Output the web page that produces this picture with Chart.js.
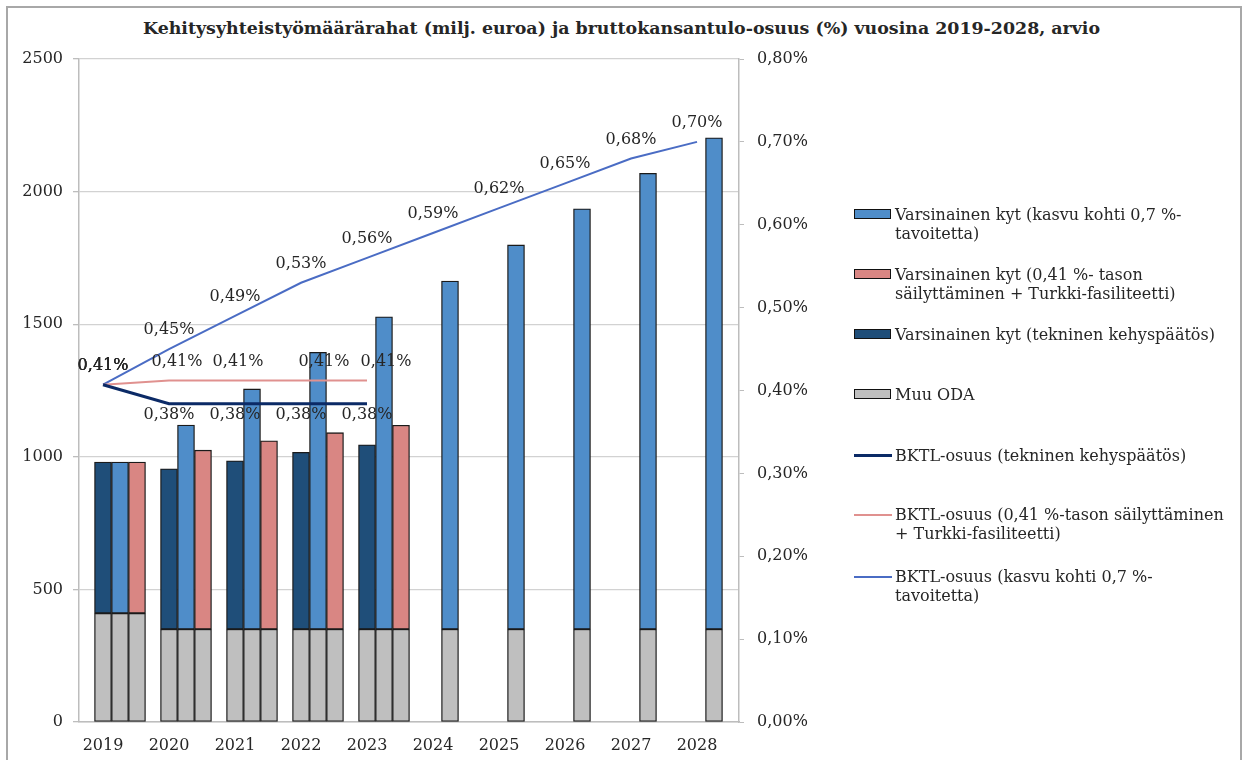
<!DOCTYPE html>
<html lang="fi">
<head>
<meta charset="utf-8">
<title>Kehitysyhteistyömäärärahat 2019-2028</title>
<script src="https://cdn.jsdelivr.net/npm/chart.js@4.4.1/dist/chart.umd.min.js"></script>
<style>
    html, body { margin: 0; padding: 0; background: #fff; }
    body { width: 1243px; height: 760px; position: relative; overflow: hidden; font-family: 'DejaVu Serif', serif; color: #262626; }
    #frame { position: absolute; left: 6px; top: 6px; width: 1236px; height: 800px; border: 2px solid #a8a8a8; box-sizing: border-box; }
    #title { position: absolute; left: 0; top: 18px; width: 1243px; text-align: center; font-weight: bold; font-size: 17.4px; }
    #wrap { position: absolute; left: 0; top: 0; width: 1243px; height: 760px; }
    .leg { position: absolute; left: 854px; font-size: 16px; line-height: 19px; white-space: nowrap; }
    .leg .key { position: absolute; left: 0; top: 4px; width: 35px; height: 8px; border: 1.5px solid #111; }
    .leg .ln { position: absolute; left: 0; width: 38px; }
    .leg .txt { margin-left: 41px; }
</style>
</head>
<body>
<div id="frame"></div>
<div id="title">Kehitysyhteistyömäärärahat (milj. euroa) ja bruttokansantulo-osuus (%) vuosina 2019-2028, arvio</div>
<div id="wrap"><canvas id="chart"></canvas></div>

<div class="leg" style="top:205px"><span class="key" style="background:#4f8dc9"></span><div class="txt">Varsinainen kyt (kasvu kohti 0,7 %-<br>tavoitetta)</div></div>
<div class="leg" style="top:265px"><span class="key" style="background:#d98683"></span><div class="txt">Varsinainen kyt (0,41 %- tason<br>säilyttäminen + Turkki-fasiliteetti)</div></div>
<div class="leg" style="top:325px"><span class="key" style="background:#1f4e79"></span><div class="txt">Varsinainen kyt (tekninen kehyspäätös)</div></div>
<div class="leg" style="top:385px"><span class="key" style="background:#bfbfbf"></span><div class="txt">Muu ODA</div></div>
<div class="leg" style="top:446px"><span class="ln" style="top:8px;border-top:3px solid #0b2a66"></span><div class="txt">BKTL-osuus (tekninen kehyspäätös)</div></div>
<div class="leg" style="top:505px"><span class="ln" style="top:9px;border-top:2px solid #e0918f"></span><div class="txt">BKTL-osuus (0,41 %-tason säilyttäminen<br>+ Turkki-fasiliteetti)</div></div>
<div class="leg" style="top:567px"><span class="ln" style="top:9px;border-top:2px solid #4a6cc4"></span><div class="txt">BKTL-osuus (kasvu kohti 0,7 %-<br>tavoitetta)</div></div>

<script>
// vuodet ja arvot (milj. euroa), luettu kuvasta
const years = [2019, 2020, 2021, 2022, 2023, 2024, 2025, 2026, 2027, 2028];
const muuOda = [410, 350, 350, 350, 350, 350, 350, 350, 350, 350];
const kytTekninen = [570, 605, 635, 667, 695];
const kytKasvu = [570, 770, 906, 1044, 1178, 1313, 1449, 1585, 1719, 1853];
const kytSailytys = [570, 675, 710, 741, 769];

// BKTL-osuus (%)
const bktlTekninen = [0.407, 0.384, 0.384, 0.384, 0.384];
const bktlSailytys = [0.407, 0.412, 0.412, 0.412, 0.412];
const bktlKasvu = [0.407, 0.45, 0.49, 0.53, 0.56, 0.59, 0.62, 0.65, 0.68, 0.70];

const COLORS = {
    tekninen: '#1f4e79',
    kasvu: '#4f8dc9',
    sailytys: '#d98683',
    muu: '#bfbfbf',
    lineTekninen: '#0b2a66',
    lineSailytys: '#e0918f',
    lineKasvu: '#4a6cc4',
    axis: '#bdbdbd',
    grid: '#d2d2d2',
    text: '#262626',
};

const FONT = "'DejaVu Serif', serif";
Chart.defaults.font.family = FONT;
Chart.defaults.font.size = 16;
Chart.defaults.color = COLORS.text;

const pctLabel = v => v.toFixed(2).replace('.', ',') + '%';
const firstFive = arr => arr.map((v, i) => (i < 5 ? v : null));
const yearTicks = s => { s.ticks = years.map(v => ({ value: v })); };

// 0,41% / 0,38% etc. labels on the line points
const pointLabels = {
    id: 'pointLabels',
    afterDatasetsDraw(chart) {
        const ctx = chart.ctx;
        ctx.save();
        ctx.font = '16px ' + FONT;
        ctx.fillStyle = COLORS.text;
        ctx.textAlign = 'center';
        ctx.textBaseline = 'middle';
        chart.data.datasets.forEach((ds, di) => {
            if (!ds.labelPos) return;
            const meta = chart.getDatasetMeta(di);
            meta.data.forEach((pt, i) => {
                const v = ds.data[i];
                if (v == null) return;
                const pos = Array.isArray(ds.labelPos) ? ds.labelPos[i] : ds.labelPos;
                const dy = pos === 'below' ? 11 : -19;
                const dx = ds.labelDx ? ds.labelDx[i] : 0;
                ctx.fillText(pctLabel(v), pt.x + dx, pt.y + dy);
            });
        });
        ctx.restore();
    },
};

const barStyle = {
    type: 'bar',
    xAxisID: 'xb',
    yAxisID: 'y',
    borderColor: '#1a1a1a',
    borderWidth: 1.3,
    borderSkipped: false,
    barThickness: 17,
    order: 2,
};

const lineStyle = {
    type: 'line',
    xAxisID: 'x',
    yAxisID: 'y2',
    pointRadius: 0,
    tension: 0,
    fill: false,
    order: 1,
};

new Chart(document.getElementById('chart'), {
    type: 'bar',
    data: {
        labels: years,
        datasets: [
            { ...lineStyle, label: 'BKTL-osuus (tekninen kehyspäätös)', data: bktlTekninen,
              borderColor: COLORS.lineTekninen, borderWidth: 3,
              labelPos: ['above', 'below', 'below', 'below', 'below'] },
            { ...lineStyle, label: 'BKTL-osuus (0,41 %-tason säilyttäminen + Turkki-fasiliteetti)', data: bktlSailytys,
              borderColor: COLORS.lineSailytys, borderWidth: 2, labelPos: 'above', labelDx: [0, 8, 3, 23, 19] },
            { ...lineStyle, label: 'BKTL-osuus (kasvu kohti 0,7 %-tavoitetta)', data: bktlKasvu,
              borderColor: COLORS.lineKasvu, borderWidth: 2, labelPos: 'above' },

            { ...barStyle, label: 'Muu ODA', stack: 'a', data: firstFive(muuOda), backgroundColor: COLORS.muu },
            { ...barStyle, label: 'Varsinainen kyt (tekninen kehyspäätös)', stack: 'a', data: kytTekninen, backgroundColor: COLORS.tekninen },
            { ...barStyle, label: 'Muu ODA', stack: 'b', data: muuOda, backgroundColor: COLORS.muu },
            { ...barStyle, label: 'Varsinainen kyt (kasvu kohti 0,7 %-tavoitetta)', stack: 'b', data: kytKasvu, backgroundColor: COLORS.kasvu },
            { ...barStyle, label: 'Muu ODA', stack: 'c', data: firstFive(muuOda), backgroundColor: COLORS.muu },
            { ...barStyle, label: 'Varsinainen kyt (0,41 %- tason säilyttäminen + Turkki-fasiliteetti)', stack: 'c', data: kytSailytys, backgroundColor: COLORS.sailytys },
        ],
    },
    options: {
        responsive: true,
        maintainAspectRatio: false,
        animation: false,
        layout: { padding: { left: 8, right: 423, top: 59, bottom: 0 } },
        scales: {
            x: {
                type: 'linear',
                position: 'bottom',
                min: 2018.636,
                max: 2028.636,
                offset: false,
                afterBuildTicks: yearTicks,
                ticks: { padding: 14, maxRotation: 0, autoSkip: false, callback: v => String(v) },
                grid: { drawOnChartArea: false, drawTicks: false },
                border: { color: COLORS.axis, width: 1.5 },
                afterFit: s => { s.height = 38; },
            },
            // bars sit a little right of the year labels, as in the original
            xb: {
                type: 'linear',
                display: false,
                min: 2018.25,
                max: 2028.25,
                offset: false,
                afterBuildTicks: yearTicks,
            },
            y: {
                position: 'left',
                stacked: true,
                min: 0,
                max: 2500,
                ticks: { stepSize: 500, padding: 10, callback: v => String(v) },
                grid: { color: COLORS.grid, lineWidth: 1.3, tickLength: 6, tickColor: COLORS.axis },
                border: { color: COLORS.axis, width: 1.5 },
                afterFit: s => { s.width = 71; },
            },
            y2: {
                position: 'right',
                min: 0,
                max: 0.8,
                ticks: { stepSize: 0.1, padding: 13, callback: v => pctLabel(v) },
                grid: { drawOnChartArea: false, tickLength: 5, color: COLORS.axis },
                border: { color: COLORS.axis, width: 1.5 },
                afterFit: s => { s.width = 81; },
            },
        },
        plugins: {
            legend: { display: false },
            tooltip: { enabled: false },
        },
    },
    plugins: [pointLabels],
});
</script>
</body>
</html>
